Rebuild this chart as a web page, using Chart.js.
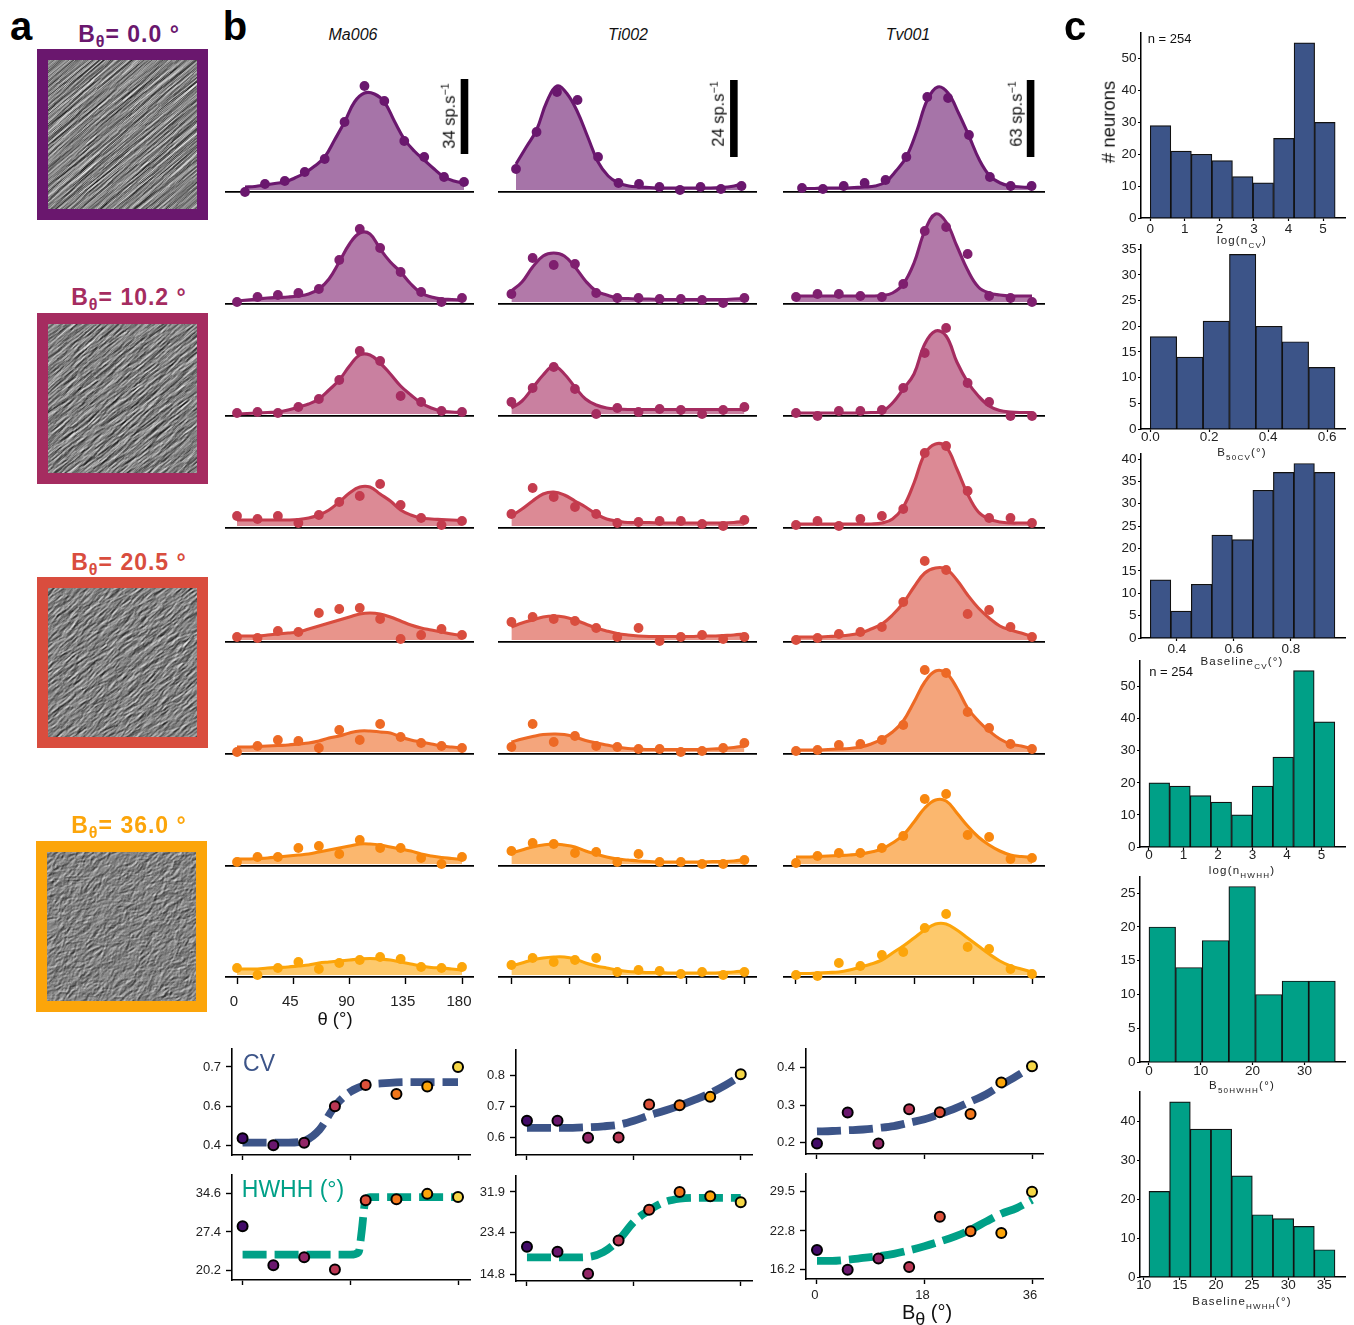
<!DOCTYPE html>
<html>
<head>
<meta charset="utf-8">
<title>Tuning curves</title>
<script src="https://cdn.jsdelivr.net/npm/chart.js@4"></script>
<style>
  html, body { margin: 0; padding: 0; background: #fff; }
  body { position: relative; width: 1354px; height: 1325px; overflow: hidden; font-family: "Liberation Sans", Arial, sans-serif; color: #111; }
  canvas { position: absolute; display: block; }
  .txt { position: absolute; white-space: nowrap; transform: translate(-50%, -50%); line-height: 1; }
  .frame { position: absolute; box-sizing: border-box; width: 171px; height: 171px; border-style: solid; border-width: 11px; }
  sub { font-size: 0.7em; line-height: 0; }
  sup { font-size: 0.65em; line-height: 0; }
</style>
</head>
<body>
<script>
// thetas of the measured points and of the fit samples (deg)
const thetas = [0, 16.4, 32.7, 49.1, 65.5, 81.8, 98.2, 114.5, 130.9, 147.3, 163.6, 180];
const fitThetas = [0, 8.2, 16.4, 24.5, 32.7, 40.9, 49.1, 57.3, 65.5, 73.6, 81.8, 90, 98.2, 106.4, 114.5, 122.7, 130.9, 139.1, 147.3, 155.5, 163.6, 171.8, 180];

// firing rates, one row per B_theta, in units where the scale bar of the column is 75
const ma006Points = [
  [0, 8, 11, 20, 33, 70, 106, 91, 51, 35, 15, 10],
  [2, 7, 9, 11, 15, 44, 75, 56, 32, 12, 2, 6],
  [3, 4, 3, 9, 17, 36, 65, 55, 20, 14, 5, 4],
  [12, 9, 12, 5, 13, 26, 32, 44, 23, 10, 3, 7],
  [5, 4, 11, 10, 29, 33, 34, 23, 3, 7, 13, 7],
  [2, 8, 14, 13, 6, 24, 14, 30, 17, 11, 8, 6],
  [4, 9, 9, 18, 20, 12, 26, 18, 18, 8, 2, 9],
  [9, 2, 9, 15, 8, 14, 17, 20, 18, 10, 9, 10]
];
const ma006Fit = [
  [5, 5.5, 7, 8.5, 10, 14, 19, 26, 35, 52, 70, 90, 99, 98, 90, 71, 53, 41, 32, 23, 15, 11, 9],
  [3, 4, 5, 6, 6.5, 7, 8, 10, 15, 25, 42, 60, 71, 70, 55, 42, 32, 20, 11, 7, 5, 4.5, 4],
  [2, 2.5, 3, 3.5, 4, 6, 9, 12, 17, 26, 36, 50, 61, 61, 53, 42, 30, 21, 13, 8, 5, 4, 3.5],
  [8, 8, 8, 8, 8, 8, 8.5, 10, 13, 18, 26, 35, 41, 41, 34, 27, 18, 13, 10, 9, 8.5, 8, 7.5],
  [6, 6, 6, 7, 8, 9, 10, 13, 16, 19, 22, 25, 28, 29, 28, 25, 21, 17, 14, 12, 10, 8, 6.5],
  [7, 7, 7.5, 8, 8.5, 9, 10, 11, 13, 16, 18, 21, 23, 23, 22, 21, 17, 14, 12, 10, 8, 7, 6],
  [7, 7, 7.5, 8, 9, 10, 11, 12, 14, 16, 18, 20, 22, 22, 21, 19, 17, 15, 12, 10, 8.5, 7.5, 6.5],
  [8, 8, 8, 9, 9.5, 10, 11, 12, 14, 15, 16, 17, 18, 18.5, 18, 17, 15, 13, 11, 9.5, 9, 8, 7]
];
const ti002Points = [
  [23, 60, 100, 92, 35, 9, 8, 5, 2, 5, 3, 6],
  [10, 46, 39, 40, 11, 6, 6, 5, 5, 4, 1, 6],
  [14, 28, 49, 27, 2, 8, 4, 7, 6, 2, 6, 9],
  [14, 40, 31, 21, 14, 5, 6, 7, 7, 4, 2, 8],
  [20, 25, 23, 21, 14, 5, 14, 1, 5, 7, 3, 5],
  [7, 30, 12, 18, 8, 7, 5, 5, 2, 3, 6, 11],
  [15, 23, 22, 13, 14, 4, 12, 4, 4, 2, 2, 6],
  [12, 19, 15, 17, 19, 5, 7, 6, 3, 5, 2, 5]
];
const ti002Fit = [
  [28, 45, 62, 90, 106, 98, 80, 55, 30, 16, 9, 6, 5, 4.5, 4, 4, 4, 4, 4, 4, 4.5, 5.5, 8],
  [13, 22, 37, 48, 51, 48, 37, 23, 13, 9, 6, 5.5, 5, 5, 4.5, 4.5, 4.5, 4.5, 4.5, 4.5, 4.5, 5, 5.5],
  [8, 15, 28, 41, 50, 42, 29, 17, 11, 8, 7, 6.5, 6.5, 6.5, 6.5, 6.5, 6.5, 6.5, 6.5, 6.5, 6.5, 6.5, 6.5],
  [12, 19, 27, 34, 36, 33, 27, 21, 14, 9, 7, 5.5, 5.5, 5.5, 5, 5, 5, 5, 5, 5, 5, 5.5, 6.5],
  [15, 19, 22, 25, 26, 25, 22, 18, 14, 11, 8.5, 7, 6, 5.5, 5.5, 5.5, 5.5, 5.5, 6, 6, 6.5, 7, 8],
  [12, 15, 17.5, 19.5, 20, 19.5, 17, 13.5, 11, 9, 7, 5.5, 5, 4.5, 4.5, 4.5, 4.5, 4.5, 4.5, 5, 5.5, 6.5, 8],
  [13, 16, 19, 21, 22, 21, 19, 15, 12, 9, 7, 6, 5, 4.5, 4, 4, 4, 4, 4, 4.5, 4.5, 5, 6.5],
  [11, 14, 17, 19, 20, 20, 18, 14, 11, 9, 7, 5.5, 5, 4.5, 4.5, 4, 4, 4, 4, 4, 4.5, 5, 6]
];
const tv001Points = [
  [4, 3, 6, 9, 12, 35, 95, 94, 57, 15, 6, 6],
  [7, 10, 10, 8, 7, 20, 73, 77, 50, 8, 6, 2],
  [3, 0, 5, 5, 6, 28, 63, 88, 33, 14, 0, 0],
  [3, 7, 2, 9, 12, 19, 75, 82, 37, 10, 10, 5],
  [2, 4, 8, 10, 15, 40, 81, 72, 28, 32, 15, 5],
  [3, 4, 9, 10, 14, 29, 84, 81, 42, 26, 10, 5],
  [3, 10, 13, 13, 18, 30, 67, 72, 31, 29, 7, 8],
  [2, 1, 14, 11, 22, 25, 49, 63, 30, 28, 8, 3]
];
const tv001Fit = [
  [3.5, 3.5, 4, 4, 4, 4.5, 5, 6, 10, 21, 35, 61, 92, 105, 99, 79, 56, 32, 16, 9, 6, 5, 4.5],
  [8, 8, 8, 8, 8, 8, 8, 8, 8.5, 11, 20, 41, 73, 90, 82, 58, 34, 17, 11, 9, 8, 8, 8],
  [3, 3, 3, 3, 3, 3, 3, 3.5, 4.5, 13, 27, 42, 72, 85, 80, 54, 34, 20, 10, 5.5, 4, 3.5, 3.5],
  [4, 4, 4, 4, 4, 4, 4, 4, 5, 9, 21, 45, 74, 84, 81, 59, 34, 16, 9, 6, 5, 5, 5],
  [5, 5, 5, 5.5, 6, 7, 9, 13, 18, 27, 39, 55, 69, 74, 73, 62, 47, 34, 24, 16, 12, 9, 5.5],
  [4, 4, 4, 4.5, 5, 5.5, 7, 10, 15, 22, 33, 52, 72, 83, 81, 66, 46, 33, 23, 15, 10, 8, 5],
  [9, 9, 9.5, 10, 10.5, 11, 12, 14, 17, 23, 31, 44, 58, 66, 65, 53, 40, 29, 21, 15, 11, 9.5, 8.5],
  [3.5, 3.5, 4, 4.5, 5, 7, 10, 13, 17, 24, 31, 39, 47, 53, 53, 47, 39, 31, 23, 16, 11, 8, 5]
];
const thetaTicks = [0, 45, 90, 135, 180];
const thetaTickLabels = ["0", "45", "90", "135", "180"];

// B_theta sweep, points and fits
const bThetas = [0, 5.14, 10.29, 15.43, 20.57, 25.71, 30.86, 36];
const bFitThetas = [0, 2.57, 5.14, 7.71, 10.29, 12.86, 15.43, 18, 20.57, 23.14, 25.71, 28.29, 30.86, 33.43, 36];
const bTicks = [0, 18, 36];
const bTickLabels = ["0", "18", "36"];
const cvMa = [0.427, 0.4, 0.41, 0.55, 0.631, 0.597, 0.625, 0.7];
const cvMaFit = [0.41, 0.41, 0.41, 0.41, 0.417, 0.46, 0.55, 0.605, 0.631, 0.637, 0.641, 0.642, 0.642, 0.642, 0.642];
const cvTi = [0.655, 0.655, 0.6, 0.601, 0.707, 0.705, 0.732, 0.805];
const cvTiFit = [0.632, 0.632, 0.632, 0.632, 0.634, 0.637, 0.642, 0.655, 0.672, 0.687, 0.704, 0.723, 0.744, 0.77, 0.8];
const cvTv = [0.198, 0.28, 0.198, 0.289, 0.281, 0.276, 0.36, 0.403];
const cvTvFit = [0.23, 0.231, 0.233, 0.235, 0.239, 0.244, 0.253, 0.262, 0.276, 0.291, 0.309, 0.328, 0.353, 0.377, 0.402];
const hwhhMa = [28.5, 21.1, 22.6, 20.3, 33.4, 33.6, 34.6, 34.0];
const hwhhMaThetas = [0, 5, 10, 15, 18, 19.4, 19.9, 20.5, 21.3, 25, 30, 36];
const hwhhMaFit = [23.1, 23.1, 23.1, 23.1, 23.1, 23.6, 27.5, 33.2, 34.0, 34.0, 34.0, 34.0];
const hwhhTi = [20.5, 19.5, 14.9, 21.8, 28.2, 31.9, 31.0, 29.75];
const hwhhTiFit = [18.3, 18.3, 18.3, 18.3, 18.4, 19.4, 21.9, 25.7, 28.1, 29.8, 30.5, 30.7, 30.7, 30.7, 30.7];
const hwhhTv = [19.56, 16.2, 18.1, 16.66, 25.24, 22.74, 22.45, 29.5];
const hwhhTvFit = [17.7, 17.7, 17.9, 18.2, 18.5, 18.9, 19.5, 20.2, 21.0, 21.9, 23, 24.4, 25.75, 26.7, 28.1];

// histograms
const histLogCv = [29, 21, 20, 18, 13, 11, 25, 55, 30];
const histB50Cv = [18, 14, 21, 34, 20, 17, 12];
const histBaseCv = [13, 6, 12, 23, 22, 33, 37, 39, 37];
const histLogHwhh = [20, 19, 16, 14, 10, 19, 28, 55, 39];
const histB50Hwhh = [20, 14, 18, 26, 10, 12, 12];
const histBaseHwhh = [22, 45, 38, 38, 26, 16, 15, 13, 7];

const rowColors = ["#6a176e", "#7f1f6f", "#a52c60", "#c43c4e", "#d94d3e", "#ed6925", "#f8870e", "#fca50a"];
const dotColors = ["#420a68", "#6a176e", "#932667", "#bb3754", "#dd513a", "#f3771a", "#fca50a", "#f6d746"];
const CV_BLUE = "#3c5488";
const HWHH_GREEN = "#00a087";

Chart.defaults.font.family = '"Liberation Sans", Arial, sans-serif';
Chart.defaults.color = "#222";
Chart.defaults.animation = false;
Chart.defaults.responsive = false;
Chart.defaults.layout.autoPadding = false;
Chart.defaults.plugins.legend.display = false;
Chart.defaults.plugins.tooltip.enabled = false;

function label(html, x, y, css, rot) {
  const el = document.createElement("div");
  el.className = "txt";
  el.innerHTML = html;
  el.style.cssText = `left:${x}px;top:${y}px;${css || ""}` + (rot ? `transform:translate(-50%,-50%) rotate(${rot}deg);` : "");
  document.body.appendChild(el);
}

function addCanvas(x, y, w, h) {
  const c = document.createElement("canvas");
  c.width = w;
  c.height = h;
  c.style.left = x + "px";
  c.style.top = y + "px";
  document.body.appendChild(c);
  return c;
}

function zip(xs, ys) {
  return ys.map((y, i) => ({ x: xs[i], y: y }));
}

// scale value at pixel p, given two known (pixel, value) pairs
function valueAt(p, p0, v0, p1, v1) {
  return v0 + (p - p0) * (v1 - v0) / (p1 - p0);
}

// fixes the size of an axis box so the plot area lands on the wanted pixels
function fixBox(size) {
  return axis => {
    if (axis.isHorizontal()) axis.height = size; else axis.width = size;
    axis.paddingLeft = axis.paddingRight = axis.paddingTop = axis.paddingBottom = 0;
  };
}

function setTicks(values) {
  return axis => { axis.ticks = values.map(v => ({ value: v })); };
}

/* panel b, tuning curves */
const tuningCols = [
  { name: "Ma006", L: 225, R: 474, points: ma006Points, fit: ma006Fit, spans: [[245, 464], [237, 462]], bar: "34", barTheta: 180.4, barY: [38, 113] },
  { name: "Ti002", L: 498, R: 757, points: ti002Points, fit: ti002Fit, spans: [[516, 741.5], [511.4, 744.4]], bar: "24", barTheta: 173.9, barY: [35, 112] },
  { name: "Tv001", L: 783, R: 1045, points: tv001Points, fit: tv001Fit, spans: [[802, 1031.6], [796, 1032]], bar: "63", barTheta: 179.2, barY: [35, 112] }
];
const baselines = [192, 304, 416, 528, 642, 754, 866, 977];
const PANEL_H = 125;

function tuningPanel(col, colIndex, row) {
  const last = row === baselines.length - 1;
  const mB = last ? 32 : 9;
  const c = addCanvas(col.L, baselines[row] - PANEL_H, col.R - col.L, PANEL_H + mB);
  const span = col.spans[row === 0 ? 0 : 1];
  const color = rowColors[row];
  const datasets = [
    { type: "scatter", data: zip(thetas, col.points[row]), showLine: false, pointRadius: 4.9, pointBorderWidth: 0, pointBackgroundColor: color, clip: false },
    { type: "line", data: zip(fitThetas, col.fit[row]), borderColor: color, borderWidth: 3.1, tension: 0.4, pointRadius: 0, backgroundColor: color + "99", fill: { value: 2 }, clip: false }
  ];
  if (row === 0) {
    datasets.push({ type: "line", data: zip([col.barTheta, col.barTheta], col.barY), borderColor: "#000", borderWidth: 7.6, pointRadius: 0, fill: false, clip: false });
  }
  new Chart(c, {
    type: "line",
    data: { datasets: datasets },
    options: {
      scales: {
        x: {
          type: "linear",
          min: valueAt(col.L, span[0], 0, span[1], 180),
          max: valueAt(col.R, span[0], 0, span[1], 180),
          afterBuildTicks: setTicks(thetaTicks),
          afterFit: fixBox(mB),
          border: { color: "#000", width: 1.7 },
          grid: { drawOnChartArea: false, drawTicks: last, tickLength: 7, tickWidth: 1.4, tickColor: "#000" },
          ticks: {
            display: last && colIndex === 0,
            autoSkip: false,
            maxRotation: 0,
            padding: 10,
            labelOffset: -3,
            font: { size: 15, lineHeight: 1 },
            callback: (v, i) => thetaTickLabels[i]
          }
        },
        y: { display: false, min: 0, max: PANEL_H, afterFit: fixBox(0) }
      }
    }
  });
}

tuningCols.forEach((col, colIndex) => {
  baselines.forEach((b, row) => tuningPanel(col, colIndex, row));
});

label("Ma006", 353, 35, "font-size:16px;font-style:italic;");
label("Ti002", 628, 35, "font-size:16px;font-style:italic;");
label("Tv001", 908, 35, "font-size:16px;font-style:italic;");
label("34 sp.s<sup>−1</sup>", 449, 116, "font-size:16.5px;", -90);
label("24 sp.s<sup>−1</sup>", 718, 114, "font-size:16.5px;", -90);
label("63 sp.s<sup>−1</sup>", 1016, 114, "font-size:16.5px;", -90);
label("θ (°)", 335, 1019, "font-size:18.5px;");

/* B_theta sweeps below the tuning curves */
const sweepPanels = [
  { L: 231.7, R: 470, T: 1049, B: 1155, x0: 242.3, x1: 458, points: cvMa, fitX: bFitThetas, fit: cvMaFit, color: CV_BLUE, yTicks: [0.4, 0.55, 0.7], yLabels: ["0.4", "0.6", "0.7"], py0: 1145.3, py1: 1067 },
  { L: 515.7, R: 752.3, T: 1050, B: 1155.7, x0: 526.7, x1: 741, points: cvTi, fitX: bFitThetas, fit: cvTiFit, color: CV_BLUE, yTicks: [0.6, 0.7, 0.8], yLabels: ["0.6", "0.7", "0.8"], py0: 1138.3, py1: 1076 },
  { L: 805.7, R: 1043, T: 1049, B: 1154, x0: 816.7, x1: 1032, points: cvTv, fitX: bFitThetas, fit: cvTvFit, color: CV_BLUE, yTicks: [0.2, 0.3, 0.4], yLabels: ["0.2", "0.3", "0.4"], py0: 1142.7, py1: 1067.3 },
  { L: 231.7, R: 470, T: 1175, B: 1280.7, x0: 242.3, x1: 458, points: hwhhMa, fitX: hwhhMaThetas, fit: hwhhMaFit, color: HWHH_GREEN, yTicks: [20.2, 27.4, 34.6], yLabels: ["20.2", "27.4", "34.6"], py0: 1270.7, py1: 1194 },
  { L: 515.7, R: 752.3, T: 1175.7, B: 1280.7, x0: 526.7, x1: 741, points: hwhhTi, fitX: bFitThetas, fit: hwhhTiFit, color: HWHH_GREEN, yTicks: [14.8, 23.4, 31.9], yLabels: ["14.8", "23.4", "31.9"], py0: 1274, py1: 1191.7 },
  { L: 805.7, R: 1043, T: 1174.3, B: 1279.3, x0: 816.7, x1: 1032, points: hwhhTv, fitX: bFitThetas, fit: hwhhTvFit, color: HWHH_GREEN, yTicks: [16.2, 22.8, 29.5], yLabels: ["16.2", "22.8", "29.5"], py0: 1270, py1: 1192, xLabels: true }
];

function sweepPanel(p) {
  const mL = 45, mB = 30, pad = 8;
  const c = addCanvas(p.L - mL, p.T - pad, mL + (p.R - p.L) + pad, pad + (p.B - p.T) + mB);
  const lo = p.yTicks[0], hi = p.yTicks[p.yTicks.length - 1];
  new Chart(c, {
    type: "line",
    data: {
      datasets: [
        { type: "scatter", data: zip(bThetas, p.points), showLine: false, pointRadius: 5, pointBorderWidth: 2, pointBorderColor: "#000", pointBackgroundColor: dotColors, clip: false },
        { type: "line", data: zip(p.fitX, p.fit), borderColor: p.color, borderWidth: 7.8, borderDash: [24, 8], cubicInterpolationMode: "monotone", pointRadius: 0, fill: false, clip: false }
      ]
    },
    options: {
      layout: { padding: { top: pad, right: pad, left: 0, bottom: 0 } },
      scales: {
        x: {
          type: "linear",
          min: valueAt(p.L, p.x0, 0, p.x1, 36),
          max: valueAt(p.R, p.x0, 0, p.x1, 36),
          afterBuildTicks: setTicks(bTicks),
          afterFit: fixBox(mB),
          border: { color: "#000", width: 1.6 },
          grid: { drawOnChartArea: false, tickLength: 5, tickWidth: 1.4, tickColor: "#000" },
          ticks: { display: !!p.xLabels, autoSkip: false, maxRotation: 0, padding: 5, labelOffset: -2, font: { size: 13, lineHeight: 1 }, callback: (v, i) => bTickLabels[i] }
        },
        y: {
          type: "linear",
          min: valueAt(p.B, p.py0, lo, p.py1, hi),
          max: valueAt(p.T, p.py0, lo, p.py1, hi),
          afterBuildTicks: setTicks(p.yTicks),
          afterFit: fixBox(mL),
          border: { color: "#000", width: 1.6 },
          grid: { drawOnChartArea: false, tickLength: 6, tickWidth: 1.4, tickColor: "#000" },
          ticks: { autoSkip: false, padding: 5, font: { size: 13, lineHeight: 1 }, callback: (v, i) => p.yLabels[i] }
        }
      }
    }
  });
}
sweepPanels.forEach(sweepPanel);

label("CV", 259, 1063, `font-size:23px;color:${CV_BLUE};`);
label("HWHH (°)", 293, 1189, `font-size:23px;color:${HWHH_GREEN};`);
label('B<span style="font-size:18px;position:relative;top:6px;">θ</span> (°)', 927, 1312, "font-size:20px;");

/* panel c, histograms */
const histPanels = [
  { values: histLogCv, color: CV_BLUE, L: 1141, R: 1345.7, T: 33.3, B: 218.3, xr: [1150.3, 0, 1323.7, 5], range: [0, 5.35], yUnit: 50, yUnitPx: 59, yTicks: [0, 10, 20, 30, 40, 50], xTicks: [0, 1, 2, 3, 4, 5], xLabels: ["0", "1", "2", "3", "4", "5"], pad: 1.25 },
  { values: histB50Cv, color: CV_BLUE, L: 1141, R: 1345.7, T: 245, B: 429.3, xr: [1150.3, 0, 1327.7, 0.6], range: [0, 0.627], yUnit: 35, yUnitPx: 249.3, yTicks: [0, 5, 10, 15, 20, 25, 30, 35], xTicks: [0, 0.2, 0.4, 0.6], xLabels: ["0.0", "0.2", "0.4", "0.6"], pad: -1.75 },
  { values: histBaseCv, color: CV_BLUE, L: 1141, R: 1345.7, T: 454, B: 638, xr: [1177, 0.4, 1291.3, 0.8], range: [0.3067, 0.955], yUnit: 40, yUnitPx: 459, yTicks: [0, 5, 10, 15, 20, 25, 30, 35, 40], xTicks: [0.4, 0.6, 0.8], xLabels: ["0.4", "0.6", "0.8"], pad: 1.25 },
  { values: histLogHwhh, color: HWHH_GREEN, L: 1140.3, R: 1346, T: 660.7, B: 847, xr: [1149.3, 0, 1322.3, 5], range: [0, 5.39], yUnit: 50, yUnitPx: 686.3, yTicks: [0, 10, 20, 30, 40, 50], xTicks: [0, 1, 2, 3, 4, 5], xLabels: ["0", "1", "2", "3", "4", "5"], pad: -1 },
  { values: histB50Hwhh, color: HWHH_GREEN, L: 1140.3, R: 1346, T: 876.7, B: 1062.3, xr: [1149.3, 0, 1305.3, 30], range: [0, 35.96], yUnit: 25, yUnitPx: 893, yTicks: [0, 5, 10, 15, 20, 25], xTicks: [0, 10, 20, 30], xLabels: ["0", "10", "20", "30"], pad: 0 },
  { values: histBaseHwhh, color: HWHH_GREEN, L: 1140.3, R: 1346, T: 1092.3, B: 1278, xr: [1144, 10, 1325.3, 35], range: [10.73, 36.47], yUnit: 40, yUnitPx: 1121.7, yTicks: [0, 10, 20, 30, 40], xTicks: [10, 15, 20, 25, 30, 35], xLabels: ["10", "15", "20", "25", "30", "35"], pad: -1 }
];

function histPanel(p) {
  const mL = 40, mB = 30, pad = 4;
  const c = addCanvas(p.L - mL, p.T - pad, mL + (p.R - p.L) + pad, pad + (p.B - p.T) + mB);
  const binWidth = (p.range[1] - p.range[0]) / p.values.length;
  const centers = p.values.map((v, i) => p.range[0] + (i + 0.5) * binWidth);
  new Chart(c, {
    type: "bar",
    data: {
      datasets: [{
        data: zip(centers, p.values),
        backgroundColor: p.color,
        borderColor: "#111",
        borderWidth: 1.2,
        barPercentage: 1,
        categoryPercentage: 1
      }]
    },
    options: {
      layout: { padding: { top: pad, right: pad, left: 0, bottom: 0 } },
      scales: {
        x: {
          type: "linear",
          offset: false,
          min: valueAt(p.L, p.xr[0], p.xr[1], p.xr[2], p.xr[3]),
          max: valueAt(p.R, p.xr[0], p.xr[1], p.xr[2], p.xr[3]),
          afterBuildTicks: setTicks(p.xTicks),
          afterFit: fixBox(mB),
          border: { color: "#000", width: 1.5 },
          grid: { offset: false, drawOnChartArea: false, tickLength: 3, tickWidth: 1.2, tickColor: "#000" },
          ticks: { autoSkip: false, maxRotation: 0, padding: p.pad, font: { size: 13.5, lineHeight: 1 }, callback: (v, i) => p.xLabels[i] }
        },
        y: {
          type: "linear",
          min: 0,
          max: valueAt(p.T, p.B, 0, p.yUnitPx, p.yUnit),
          afterBuildTicks: setTicks(p.yTicks),
          afterFit: fixBox(mL),
          border: { color: "#000", width: 1.5 },
          grid: { drawOnChartArea: false, tickLength: 3, tickWidth: 1.2, tickColor: "#000" },
          ticks: { autoSkip: false, padding: 1.5, font: { size: 13.5, lineHeight: 1 } }
        }
      }
    }
  });
}
histPanels.forEach(histPanel);

const smallTitle = "font-size:11.5px;letter-spacing:1.2px;color:#222;";
label("log(n<sub>CV</sub>)", 1242, 241, smallTitle);
label("B<sub>50CV</sub>(°)", 1242, 452.5, smallTitle);
label("Baseline<sub>CV</sub>(°)", 1242, 661.5, smallTitle);
label("log(n<sub>HWHH</sub>)", 1242, 871, smallTitle);
label("B<sub>50HWHH</sub>(°)", 1242, 1086, smallTitle);
label("Baseline<sub>HWHH</sub>(°)", 1242, 1301.5, smallTitle);
label("# neurons", 1109, 122, "font-size:18.5px;", -90);
label("n = 254", 1169.5, 38, "font-size:13px;");
label("n = 254", 1171, 671, "font-size:13px;");

/* panel a, frames with the stimulus textures */
const stimuli = [
  { title: "B<sub>θ</sub>= 0.0 °", color: "#6a176e", x: 37, y: 49, ty: 34, spread: 3, len: 50, count: 1700, width: 1, alpha: 0.22, seed: 11 },
  { title: "B<sub>θ</sub>= 10.2 °", color: "#a52c60", x: 37, y: 313, ty: 297, spread: 12, len: 20, count: 2400, width: 1.1, alpha: 0.2, seed: 23 },
  { title: "B<sub>θ</sub>= 20.5 °", color: "#d94d3e", x: 37, y: 577, ty: 562, spread: 22, len: 12, count: 3000, width: 1.3, alpha: 0.17, seed: 37 },
  { title: "B<sub>θ</sub>= 36.0 °", color: "#fca50a", x: 36, y: 841, ty: 825, spread: 48, len: 7, count: 3600, width: 1.7, alpha: 0.13, seed: 41 }
];

// decorative grey texture, strokes around 40 deg from a small seeded generator
function drawTexture(c, s) {
  const ctx = c.getContext("2d");
  let state = s.seed;
  const rnd = () => { state = (state * 16807) % 2147483647; return state / 2147483647; };
  ctx.fillStyle = "#858585";
  ctx.fillRect(0, 0, c.width, c.height);
  ctx.lineCap = "round";
  for (let i = 0; i < s.count; i++) {
    const x = rnd() * c.width, y = rnd() * c.height;
    const a = (-40 + (rnd() + rnd() - 1) * s.spread) * Math.PI / 180;
    const l = s.len * (0.5 + rnd());
    const dx = Math.cos(a) * l / 2, dy = Math.sin(a) * l / 2;
    const v = s.alpha * (0.4 + rnd() * 1.2);
    const bright = rnd() > 0.5;
    [[bright ? 255 : 0, 0], [bright ? 0 : 255, 1.4]].forEach(([tone, off]) => {
      ctx.strokeStyle = `rgba(${tone},${tone},${tone},${v})`;
      ctx.lineWidth = s.width;
      ctx.beginPath();
      ctx.moveTo(x - dx + off, y - dy + off);
      ctx.lineTo(x + dx + off, y + dy + off);
      ctx.stroke();
    });
  }
}

stimuli.forEach(s => {
  const f = document.createElement("div");
  f.className = "frame";
  f.style.cssText = `left:${s.x}px;top:${s.y}px;border-color:${s.color};`;
  document.body.appendChild(f);
  const c = addCanvas(s.x + 11, s.y + 11, 149, 149);
  drawTexture(c, s);
  label(s.title, 129, s.ty, `font-size:23px;font-weight:bold;letter-spacing:1px;color:${s.color};`);
});

label("a", 21, 26, "font-size:40px;font-weight:bold;color:#000;");
label("b", 235, 26, "font-size:40px;font-weight:bold;color:#000;");
label("c", 1075, 26, "font-size:40px;font-weight:bold;color:#000;");
</script>
</body>
</html>
